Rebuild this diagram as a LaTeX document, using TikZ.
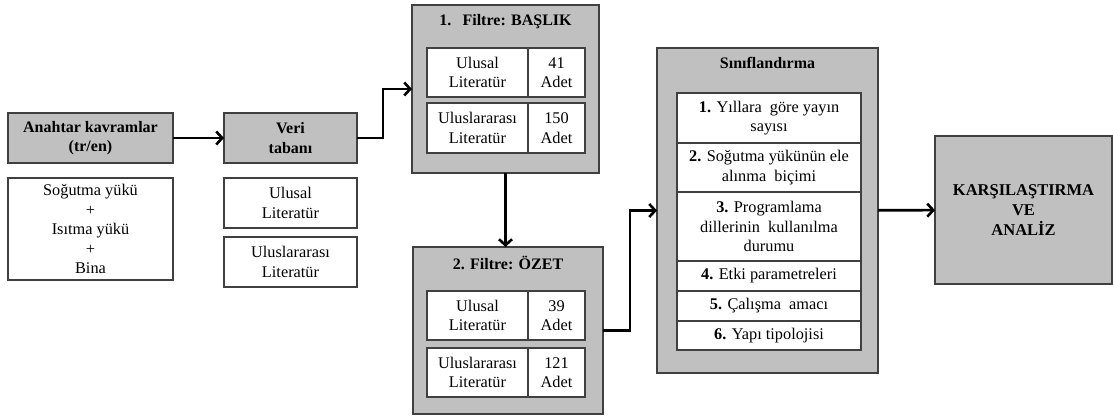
\documentclass[tikz,border=0pt]{standalone}
\usepackage{fontspec}
\setmainfont{Liberation Serif}
\usepackage{xcolor}
\usepackage{tikz}
\usetikzlibrary{arrows.meta,positioning}

\definecolor{boxgray}{RGB}{192,192,192}
\definecolor{boxline}{RGB}{64,64,64}

\begin{document}
\begin{tikzpicture}[x=1pt, y=-1pt, font=\fontsize{16.3}{19.5}\selectfont,
  >={Straight Barb[length=6pt,width=13pt]},
  graybox/.style={draw=boxline, fill=boxgray, line width=1.4pt, outer sep=0pt, align=center, inner sep=2pt},
  whitebox/.style={draw=boxline, fill=white, line width=1.4pt, outer sep=0pt, align=center, inner sep=2pt},
  headtext/.style={font=\fontsize{16}{19.5}\selectfont\bfseries, align=center},
  flow/.style={->, line width=2.6pt}]
  \useasboundingbox (0,0) rectangle (1113,420);

  % keywords and database
  \node[graybox, headtext, minimum width=165pt, minimum height=50pt] (key) at (90.5,138) {Anahtar kavramlar\\(tr/en)};
  \node[whitebox, minimum width=165pt, minimum height=102pt, below=15pt of key] (terms) {Soğutma yükü\\+\\Isıtma yükü\\+\\Bina};
  \node[graybox, headtext, minimum width=133pt, minimum height=50pt] (db) at (290.5,138) {Veri\\tabanı};
  \node[whitebox, minimum width=133pt, minimum height=50pt, below=15pt of db] (dbnat) {Ulusal\\Literatür};
  \node[whitebox, minimum width=133pt, minimum height=50pt, below=9pt of dbnat] (dbint) {Uluslararası\\Literatür};

  % filters
  \node[graybox, minimum width=187pt, minimum height=168pt] (f1) at (505.5,89) {};
  \node[headtext] (f1h) at (505.5,22) {1.\hspace{0.7em}Filtre: BAŞLIK};
  \node[whitebox, minimum width=101pt, minimum height=49pt] (f1a) at (477.5,72.5) {Ulusal\\Literatür};
  \node[whitebox, minimum width=57pt, minimum height=49pt, right=0pt of f1a] (f1an) {41\\Adet};
  \node[whitebox, minimum width=101pt, minimum height=50pt, below=6pt of f1a] (f1b) {Uluslararası\\Literatür};
  \node[whitebox, minimum width=57pt, minimum height=50pt, right=0pt of f1b] (f1bn) {150\\Adet};

  \node[graybox, minimum width=190pt, minimum height=167pt] (f2) at (508,330.5) {};
  \node[headtext] (f2h) at (508,263) {2. Filtre: ÖZET};
  \node[whitebox, minimum width=101pt, minimum height=49pt] (f2a) at (477.5,315.5) {Ulusal\\Literatür};
  \node[whitebox, minimum width=57pt, minimum height=49pt, right=0pt of f2a] (f2an) {39\\Adet};
  \node[whitebox, minimum width=101pt, minimum height=49pt, below=8pt of f2a] (f2b) {Uluslararası\\Literatür};
  \node[whitebox, minimum width=57pt, minimum height=49pt, right=0pt of f2b] (f2bn) {121\\Adet};

  % classification
  \node[graybox, minimum width=221pt, minimum height=325pt] (cls) at (767.5,210.5) {};
  \node[headtext] (clsh) at (767.5,63) {Sınıflandırma};
  \node[whitebox, minimum width=184pt, minimum height=50pt] (c1) at (769,118) {\textbf{1.} Yıllara\ \ göre yayın\\sayısı};
  \node[whitebox, minimum width=184pt, minimum height=49pt, below=0pt of c1] (c2) {\textbf{2.} Soğutma yükünün ele\\alınma\ \ biçimi};
  \node[whitebox, minimum width=184pt, minimum height=69pt, below=0pt of c2] (c3) {\textbf{3.} Programlama\\dillerinin\ \ kullanılma\\durumu};
  \node[whitebox, minimum width=184pt, minimum height=30pt, below=0pt of c3] (c4) {\textbf{4.} Etki parametreleri};
  \node[whitebox, minimum width=184pt, minimum height=30pt, below=0pt of c4] (c5) {\textbf{5.} Çalışma\ \ amacı};
  \node[whitebox, minimum width=184pt, minimum height=29pt, below=0pt of c5] (c6) {\textbf{6.} Yapı tipolojisi};

  \node[graybox, minimum width=177pt, minimum height=148pt, font=\fontsize{16.5}{20}\selectfont\bfseries] (res) at (1023.5,210) {KARŞILAŞTIRMA\\VE\\ANALİZ};

  \draw[flow] (key) -- (db);
  \draw[flow] (db.east) -- ++(26,0) |- (f1.west);
  \draw[flow] (f1.south) -- (f1.south |- f2.north);
  \draw[flow] (f2.east) -- ++(27,0) |- (cls.west);
  \draw[flow] (cls) -- (res);
\end{tikzpicture}
\end{document}
